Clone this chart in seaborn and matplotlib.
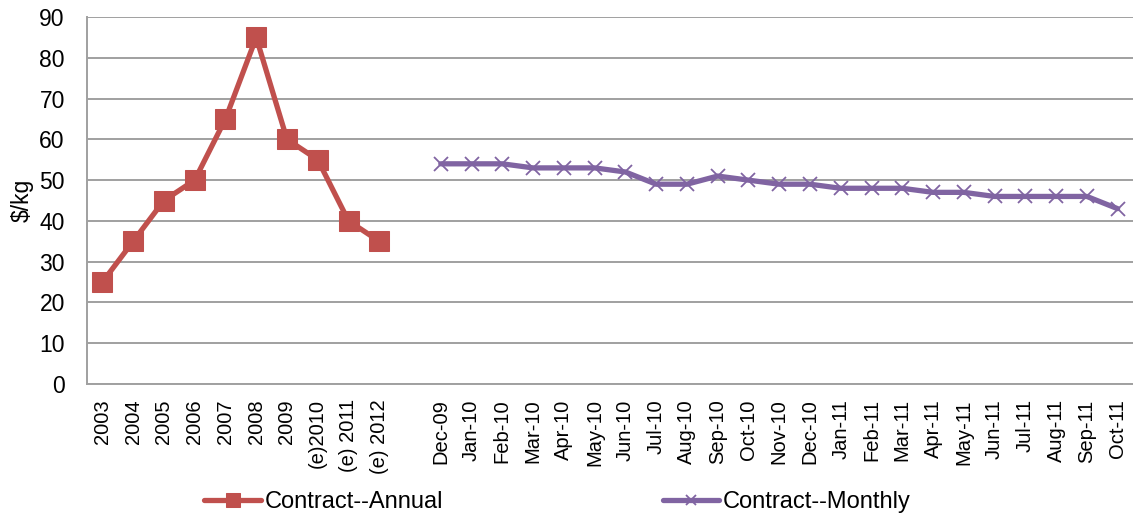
import numpy as np
import pandas as pd
import matplotlib
matplotlib.use("Agg")
import matplotlib.pyplot as plt
import seaborn as sns

# Category axis: annual years, a spacer, then monthly contract dates
annual_labels = ["2003", "2004", "2005", "2006", "2007", "2008", "2009",
                 "(e)2010", "(e) 2011", "(e) 2012"]
annual_values = [25, 35, 45, 50, 65, 85, 60, 55, 40, 35]

monthly_labels = ["Dec-09", "Jan-10", "Feb-10", "Mar-10", "Apr-10", "May-10",
                  "Jun-10", "Jul-10", "Aug-10", "Sep-10", "Oct-10", "Nov-10",
                  "Dec-10", "Jan-11", "Feb-11", "Mar-11", "Apr-11", "May-11",
                  "Jun-11", "Jul-11", "Aug-11", "Sep-11", "Oct-11"]
monthly_values = [54, 54, 54, 53, 53, 53, 52, 49, 49, 51, 50, 49, 49,
                  48, 48, 48, 47, 47, 46, 46, 46, 46, 43]

categories = annual_labels + [""] + monthly_labels
pos = {c: i for i, c in enumerate(categories) if c}

annual_df = pd.DataFrame({"x": [pos[c] for c in annual_labels], "y": annual_values})
monthly_df = pd.DataFrame({"x": [pos[c] for c in monthly_labels], "y": monthly_values})

sns.set_style("white")
plt.rcParams["font.family"] = ["Liberation Sans", "DejaVu Sans"]
plt.rcParams["text.color"] = "black"
plt.rcParams["axes.labelcolor"] = "black"
plt.rcParams["xtick.labelcolor"] = "black"
plt.rcParams["ytick.labelcolor"] = "black"

RED = "#C0504D"
PURPLE = "#8064A2"
GRID = "#A0A0A0"

fig = plt.figure(figsize=(11.33, 5.16), dpi=100)
ax = fig.add_axes([0.0768, 0.2558, 0.9232, 0.7112])

sns.lineplot(data=annual_df, x="x", y="y", ax=ax, color=RED, linewidth=3.8,
             marker="s", markersize=14, markeredgecolor=RED,
             label="Contract--Annual", zorder=3)
sns.lineplot(data=monthly_df, x="x", y="y", ax=ax, color=PURPLE, linewidth=3.8,
             marker="x", markersize=10.5, markeredgewidth=1.3,
             markeredgecolor=PURPLE, label="Contract--Monthly", zorder=3)

n = len(categories)
ax.set_xlim(-0.5, n - 0.5)
ax.set_ylim(0, 90)
ax.set_yticks(np.arange(0, 91, 10))
ax.yaxis.grid(True, color=GRID, linewidth=1.4)
ax.set_axisbelow(True)

ax.set_xticks(range(n))
ax.set_xticklabels(categories, rotation=90, fontsize=14.5, color="black")
ax.set_xticks(np.arange(-0.5, n, 1.0), minor=True)
ax.tick_params(axis="x", which="major", length=0, pad=11)
ax.tick_params(axis="x", which="minor", length=5, width=1.2, color=GRID,
               direction="out")
ax.tick_params(axis="y", which="major", length=5, width=1.2, color=GRID,
               labelsize=16.5, labelcolor="black", direction="out", pad=11)

for side in ("top", "right"):
    ax.spines[side].set_visible(False)
for side in ("left", "bottom"):
    ax.spines[side].set_color(GRID)
    ax.spines[side].set_linewidth(1.4)

ax.set_xlabel("")
ax.set_ylabel("$/kg", fontsize=16.5, labelpad=4, color="black")

handles, labels = ax.get_legend_handles_labels()
ax.get_legend().remove()
fig.legend(handles, labels, loc="center", bbox_to_anchor=(0.492, 0.027),
           ncol=2, frameon=False, fontsize=17, handlelength=2.4,
           handletextpad=0.15, columnspacing=9.3, markerscale=0.72,
           borderpad=0, borderaxespad=0, labelcolor="black")

fig.savefig("out.png", dpi=100)
